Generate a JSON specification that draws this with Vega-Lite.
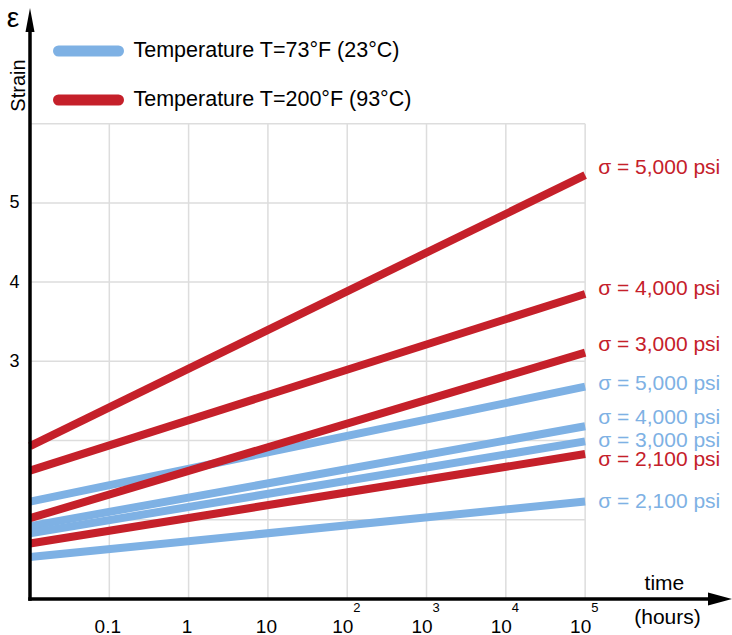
{
  "$schema": "https://vega.github.io/schema/vega-lite/v6.json",
  "width": 702,
  "height": 591,
  "autosize": {"type": "none"},
  "padding": {"left": 30, "top": 8, "right": 0, "bottom": 36},
  "background": "white",
  "config": {"view": {"stroke": null}, "font": "Liberation Sans"},
  "datasets": {
    "lines": [
      {"temp": "73", "stress": "5000", "t": 0.01, "strain": 1.23},
      {"temp": "73", "stress": "5000", "t": 100000, "strain": 2.68},
      {"temp": "73", "stress": "4000", "t": 0.01, "strain": 0.92},
      {"temp": "73", "stress": "4000", "t": 100000, "strain": 2.18},
      {"temp": "73", "stress": "3000", "t": 0.01, "strain": 0.83},
      {"temp": "73", "stress": "3000", "t": 100000, "strain": 1.99},
      {"temp": "73", "stress": "2100", "t": 0.01, "strain": 0.53},
      {"temp": "73", "stress": "2100", "t": 100000, "strain": 1.23},
      {"temp": "200", "stress": "5000", "t": 0.01, "strain": 1.93},
      {"temp": "200", "stress": "5000", "t": 100000, "strain": 5.35},
      {"temp": "200", "stress": "4000", "t": 0.01, "strain": 1.62},
      {"temp": "200", "stress": "4000", "t": 100000, "strain": 3.85},
      {"temp": "200", "stress": "3000", "t": 0.01, "strain": 1.02},
      {"temp": "200", "stress": "3000", "t": 100000, "strain": 3.11},
      {"temp": "200", "stress": "2100", "t": 0.01, "strain": 0.70},
      {"temp": "200", "stress": "2100", "t": 100000, "strain": 1.83}
    ],
    "labels": [
      {"temp": "200", "text": "σ = 5,000 psi", "pos": 5.44},
      {"temp": "200", "text": "σ = 4,000 psi", "pos": 3.91},
      {"temp": "200", "text": "σ = 3,000 psi", "pos": 3.21},
      {"temp": "73", "text": "σ = 5,000 psi", "pos": 2.71},
      {"temp": "73", "text": "σ = 4,000 psi", "pos": 2.285},
      {"temp": "73", "text": "σ = 3,000 psi", "pos": 2.0},
      {"temp": "200", "text": "σ = 2,100 psi", "pos": 1.76},
      {"temp": "73", "text": "σ = 2,100 psi", "pos": 1.225}
    ],
    "gridX": [{"v": 0.1}, {"v": 1}, {"v": 10}, {"v": 100}, {"v": 1000}, {"v": 10000}, {"v": 100000}],
    "gridY": [{"v": 1}, {"v": 2}, {"v": 3}, {"v": 4}, {"v": 5}, {"v": 6}],
    "sup": [{"t": 100, "s": "2"}, {"t": 1000, "s": "3"}, {"t": 10000, "s": "4"}, {"t": 100000, "s": "5"}],
    "one": [{}]
  },
  "layer": [
    {
      "data": {"name": "gridX"},
      "mark": {"type": "rule", "color": "#dddddd", "strokeWidth": 1.5},
      "encoding": {
        "x": {"field": "v", "type": "quantitative"},
        "y": {"datum": 0},
        "y2": {"datum": 6}
      }
    },
    {
      "data": {"name": "gridY"},
      "mark": {"type": "rule", "color": "#dddddd", "strokeWidth": 1.5},
      "encoding": {
        "y": {"field": "v", "type": "quantitative"},
        "x": {"datum": 0.01},
        "x2": {"datum": 100000}
      }
    },
    {
      "data": {"name": "lines"},
      "mark": {"type": "line", "strokeWidth": 8, "strokeCap": "butt"},
      "encoding": {
        "x": {
          "field": "t", "type": "quantitative",
          "scale": {"type": "log", "domain": [0.01, 7110000], "nice": false},
          "axis": {
            "values": [0.1, 1, 10, 100, 1000, 10000, 100000],
            "labelExpr": "datum.value < 0.5 ? '0.1' : datum.value < 5 ? '1' : '10'",
            "domain": false, "ticks": false, "tickSize": 0, "grid": false,
            "labelFont": "Liberation Sans", "labelFontSize": 19, "labelColor": "black",
            "labelBaseline": "alphabetic", "labelPadding": 33,
            "labelOffset": {"condition": {"test": "datum.value > 50", "value": -5}, "value": -2},
            "title": "(hours)", "titleFont": "Liberation Sans", "titleFontSize": 21, "titleFontWeight": "normal",
            "titleColor": "black", "titleX": 637, "titleY": 24, "titleBaseline": "alphabetic", "titleAlign": "center", "titleAnchor": null
          }
        },
        "y": {
          "field": "strain", "type": "quantitative",
          "scale": {"domain": [0, 7.46], "nice": false, "zero": false},
          "axis": {
            "values": [3, 4, 5], "format": "d",
            "domain": false, "ticks": false, "tickSize": 0, "grid": false,
            "labelFont": "Liberation Sans", "labelFontSize": 18, "labelColor": "black", "labelPadding": 11,
            "title": "Strain", "titleFont": "Liberation Sans", "titleFontSize": 20, "titleFontWeight": "normal",
            "titleColor": "black", "titleX": -6, "titleY": 77, "titleAngle": -90, "titleBaseline": "alphabetic", "titleAlign": "center", "titleAnchor": null
          }
        },
        "color": {
          "field": "temp", "type": "nominal",
          "scale": {"domain": ["73", "200"], "range": ["#7eb1e4", "#c5202a"]},
          "legend": {
            "title": null, "orient": "none", "legendX": 23, "legendY": 28,
            "symbolType": "M-2,0H2", "symbolSize": 900, "symbolStrokeWidth": 11, "symbolOffset": 15,
            "clipHeight": 30, "rowPadding": 19, "labelOffset": 24.5, "padding": 0,
            "labelFont": "Liberation Sans", "labelFontSize": 21.5, "labelColor": "black", "labelLimit": 400,
            "labelExpr": "datum.value == '73' ? 'Temperature T=73°F (23°C)' : 'Temperature T=200°F (93°C)'",
            "encoding": {"symbols": {"strokeCap": {"value": "round"}}}
          }
        },
        "detail": {"field": "stress", "type": "nominal"}
      }
    },
    {
      "data": {"name": "labels"},
      "mark": {"type": "text", "align": "left", "baseline": "middle", "dx": 13, "fontSize": 21, "font": "Liberation Sans"},
      "encoding": {
        "x": {"datum": 100000},
        "y": {"field": "pos", "type": "quantitative"},
        "text": {"field": "text"},
        "fill": {"field": "temp", "type": "nominal", "scale": {"domain": ["73", "200"], "range": ["#7eb1e4", "#c5202a"]}, "legend": null}
      }
    },
    {
      "data": {"name": "sup"},
      "mark": {"type": "text", "align": "left", "baseline": "alphabetic", "dx": 6, "dy": 13, "fontSize": 13, "font": "Liberation Sans", "color": "black"},
      "encoding": {
        "x": {"field": "t", "type": "quantitative"},
        "y": {"datum": 0},
        "text": {"field": "s"}
      }
    },
    {
      "data": {"name": "one"},
      "mark": {"type": "rule", "color": "black", "strokeWidth": 3.5, "strokeCap": "square"},
      "encoding": {"x": {"datum": 0.01}, "x2": {"datum": 5000000}, "y": {"datum": 0}}
    },
    {
      "data": {"name": "one"},
      "mark": {"type": "rule", "color": "black", "strokeWidth": 3.5, "strokeCap": "square"},
      "encoding": {"x": {"datum": 0.01}, "y": {"datum": 0}, "y2": {"datum": 7.2}}
    },
    {
      "data": {"name": "one"},
      "mark": {"type": "point", "shape": "M-2,-0.55L0,0L-2,0.55Z", "size": 576, "filled": true, "color": "black", "opacity": 1, "strokeWidth": 0},
      "encoding": {"x": {"datum": 7110000}, "y": {"datum": 0}}
    },
    {
      "data": {"name": "one"},
      "mark": {"type": "point", "shape": "M-0.375,2L0,0L0.375,2Z", "size": 576, "filled": true, "color": "black", "opacity": 1, "strokeWidth": 0},
      "encoding": {"x": {"datum": 0.01}, "y": {"datum": 7.46}}
    },
    {
      "data": {"name": "one"},
      "mark": {"type": "text", "text": "ε", "align": "center", "baseline": "alphabetic", "dx": -17, "dy": 19, "fontSize": 28, "font": "Liberation Sans", "color": "black"},
      "encoding": {"x": {"datum": 0.01}, "y": {"datum": 7.46}}
    },
    {
      "data": {"name": "one"},
      "mark": {"type": "text", "text": "time", "align": "center", "baseline": "alphabetic", "dy": -9, "fontSize": 21, "font": "Liberation Sans", "color": "black"},
      "encoding": {"x": {"datum": 1000000}, "y": {"datum": 0}}
    }
  ]
}
